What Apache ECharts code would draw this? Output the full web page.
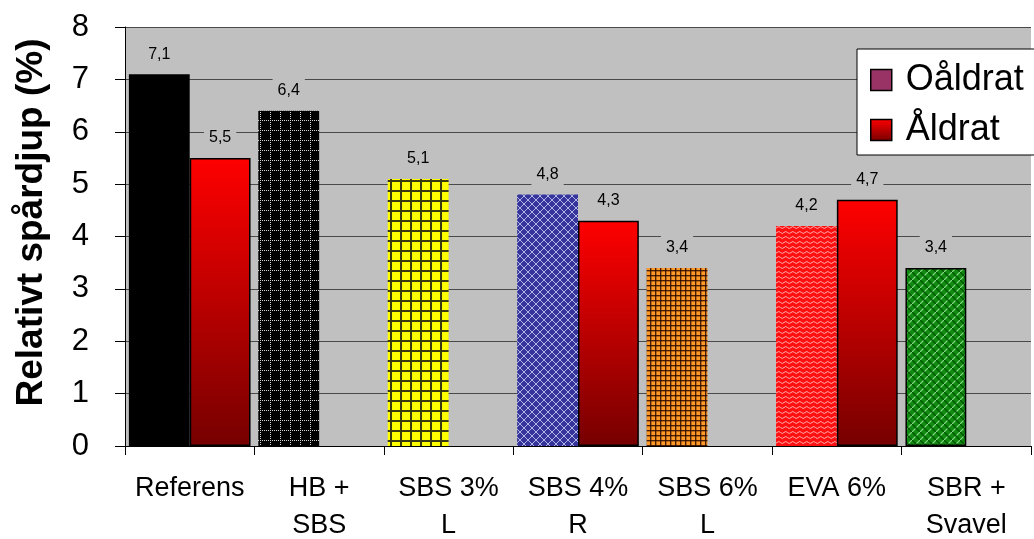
<!DOCTYPE html>
<html>
<head>
<meta charset="utf-8">
<script src="https://cdn.jsdelivr.net/npm/echarts@6/dist/echarts.min.js"></script>
<style>
  html, body { margin: 0; padding: 0; background: #fff; }
  #chart { width: 1034px; height: 539px; }
</style>
</head>
<body>
<div id="chart"></div>
<script>
// Mixes and their relative rut depth (%)
const categories = ['Referens', 'HB +\nSBS', 'SBS 3%\nL', 'SBS 4%\nR', 'SBS 6%\nL', 'EVA 6%', 'SBR +\nSvavel'];
const oaldrat = [7.1, 6.4, 5.1, 4.8, 3.4, 4.2, 3.4];
const aldrat = [5.5, null, null, 4.3, null, 4.7, null];
const yTicks = [0, 1, 2, 3, 4, 5, 6, 7, 8];

const FONT = '"Liberation Sans", Arial, sans-serif';

// Small repeating canvas tiles used as bar fills
function tile(w, h, draw) {
  const c = document.createElement('canvas');
  c.width = w; c.height = h;
  const g = c.getContext('2d');
  draw(g, w, h);
  return { image: c, repeat: 'repeat' };
}

const fills = [
  '#000000',
  // black with dotted white grid
  tile(10, 10, (g) => {
    g.fillStyle = '#000'; g.fillRect(0, 0, 10, 10);
    g.fillStyle = '#d8d8d8';
    for (let i = 0; i < 10; i += 2) { g.fillRect(i, 0, 1, 1); g.fillRect(0, i, 1, 1); }
  }),
  // yellow with dark grid
  tile(10, 10, (g) => {
    g.fillStyle = '#ffff00'; g.fillRect(0, 0, 10, 10);
    g.fillStyle = '#3a3a10';
    g.fillRect(0, 0, 2, 10); g.fillRect(0, 0, 10, 2);
  }),
  // blue diamonds
  tile(8, 8, (g) => {
    g.fillStyle = '#34349c'; g.fillRect(0, 0, 8, 8);
    g.fillStyle = '#b4b4e4';
    for (let i = 0; i < 8; i++) { g.fillRect(i, i, 1, 1); g.fillRect(7 - i, i, 1, 1); }
  }),
  // orange plaid
  tile(5, 5, (g) => {
    g.fillStyle = '#ff9a2a'; g.fillRect(0, 0, 5, 5);
    g.fillStyle = 'rgba(110,50,0,0.45)';
    g.fillRect(1, 0, 1, 5); g.fillRect(0, 1, 5, 1);
    g.fillStyle = 'rgba(40,10,0,0.85)';
    g.fillRect(0, 0, 1, 5); g.fillRect(0, 0, 5, 1);
  }),
  // red waves
  tile(7, 5, (g) => {
    g.fillStyle = '#ff1010'; g.fillRect(0, 0, 7, 5);
    g.strokeStyle = '#ffb0b0'; g.lineWidth = 1;
    g.beginPath(); g.moveTo(0, 2.5);
    g.quadraticCurveTo(1.75, 0.5, 3.5, 2.5);
    g.quadraticCurveTo(5.25, 4.5, 7, 2.5);
    g.stroke();
  }),
  // green weave
  tile(8, 8, (g) => {
    g.fillStyle = '#108a10'; g.fillRect(0, 0, 8, 8);
    g.strokeStyle = '#8ad88a'; g.lineWidth = 1.2;
    g.beginPath();
    g.moveTo(0, 8); g.lineTo(8, 0);
    g.moveTo(-4, 4); g.lineTo(4, -4);
    g.moveTo(4, 12); g.lineTo(12, 4);
    g.stroke();
    g.strokeStyle = '#005a00'; g.lineWidth = 1.5;
    g.beginPath(); g.moveTo(0, 0); g.lineTo(8, 8); g.stroke();
  })
];
const borders = [0, 0, 0, 0, 0, 0, 1.5];

const redGrad = {
  type: 'linear', x: 0, y: 0, x2: 0, y2: 1,
  colorStops: [{ offset: 0, color: '#ff0000' }, { offset: 1, color: '#760000' }]
};

const valueLabel = {
  show: true,
  position: 'top',
  distance: 8,
  fontFamily: FONT,
  fontSize: 16,
  color: '#000',
  backgroundColor: '#c0c0c0',
  padding: [5, 5, 4, 5],
  formatter: (p) => String(p.value).replace('.', ',')
};

const chart = echarts.init(document.getElementById('chart'), null, { renderer: 'canvas' });
chart.setOption({
  animation: false,
  backgroundColor: '#ffffff',
  grid: {
    left: 125, right: 3, top: 27, bottom: 93,
    outerBoundsMode: 'none', containLabel: false,
    backgroundColor: '#c0c0c0', show: true, borderWidth: 0
  },
  legend: {
    orient: 'vertical',
    left: 857,
    top: 49,
    padding: [13, 40, 7, 13],
    itemGap: 14,
    itemWidth: 21,
    itemHeight: 21,
    icon: 'rect',
    backgroundColor: '#ffffff',
    borderColor: '#000000',
    borderWidth: 1,
    itemStyle: { borderColor: '#000', borderWidth: 1.5 },
    textStyle: { fontFamily: FONT, fontSize: 36, color: '#000', padding: [0, 0, 0, 9] },
    data: ['Oåldrat', 'Åldrat']
  },
  xAxis: {
    type: 'category',
    data: categories,
    boundaryGap: true,
    axisLine: { lineStyle: { color: '#000', width: 1 } },
    axisTick: { show: true, length: 9, lineStyle: { color: '#000' } },
    axisLabel: { fontFamily: FONT, fontSize: 27, color: '#000', margin: 24, lineHeight: 37, interval: 0 }
  },
  yAxis: {
    type: 'value',
    min: yTicks[0],
    max: yTicks[yTicks.length - 1],
    interval: 1,
    name: 'Relativt spårdjup (%)',
    nameLocation: 'middle',
    nameGap: 75,
    nameRotate: 90,
    nameTextStyle: { fontFamily: FONT, fontSize: 37, fontWeight: 'bold', color: '#000', padding: [0, 0, 0, 28] },
    axisLine: { show: true, lineStyle: { color: '#000', width: 1 } },
    axisTick: { show: true, length: 10, lineStyle: { color: '#000' } },
    axisLabel: { fontFamily: FONT, fontSize: 31, color: '#000', margin: 36 },
    splitLine: { show: true, lineStyle: { color: '#4a4a4a', width: 1 } }
  },
  series: [
    {
      name: 'Oåldrat',
      type: 'bar',
      barCategoryGap: '6%',
      barGap: '0%',
      itemStyle: { color: '#993366', borderColor: '#000' },
      label: valueLabel,
      data: oaldrat.map((v, i) => ({
        value: v,
        itemStyle: { color: fills[i], borderColor: '#000', borderWidth: borders[i] }
      }))
    },
    {
      name: 'Åldrat',
      type: 'bar',
      barCategoryGap: '6%',
      barGap: '0%',
      itemStyle: { color: redGrad, borderColor: '#000', borderWidth: 1.5 },
      label: valueLabel,
      data: aldrat
    }
  ]
});
</script>
</body>
</html>
